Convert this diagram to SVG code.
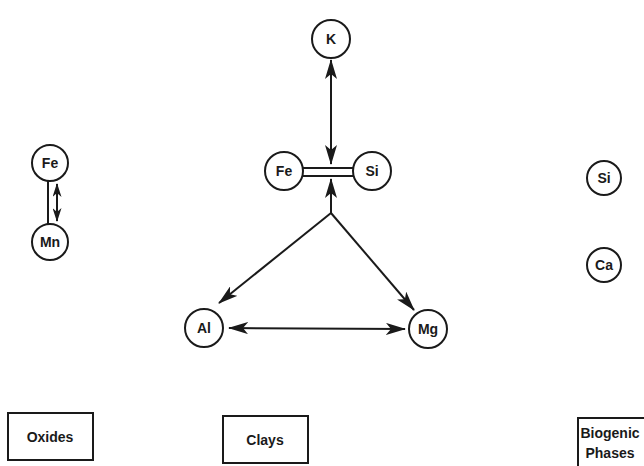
<svg xmlns="http://www.w3.org/2000/svg" width="644" height="466" viewBox="0 0 644 466">
<style>
.n{fill:#fff;stroke:#1a1a1a;stroke-width:2}
.t{font-family:"Liberation Sans",Arial,sans-serif;font-weight:bold;font-size:14px;fill:#1a1a1a;text-anchor:middle;dominant-baseline:central}
.b{fill:#fff;stroke:#1a1a1a;stroke-width:2}
.c{stroke:#1a1a1a;stroke-width:2;fill:none}
</style>
<defs>
<marker id="ah" viewBox="0 0 20 12" refX="19" refY="6" markerWidth="20" markerHeight="12" markerUnits="userSpaceOnUse" orient="auto-start-reverse">
<path d="M0,0 L20,6 L0,12 L5,6 Z" fill="#1a1a1a"/>
</marker>
<marker id="as" viewBox="0 0 14 9" refX="13" refY="4.5" markerWidth="14" markerHeight="9" markerUnits="userSpaceOnUse" orient="auto-start-reverse">
<path d="M0,0 L14,4.5 L0,9 L4,4.5 Z" fill="#1a1a1a"/>
</marker>
</defs>
<rect width="644" height="466" fill="#fff"/>
<g id="connectors">
<line class="c" x1="48" y1="181" x2="48" y2="224"/>
<line class="c" x1="57" y1="184" x2="57" y2="221" marker-start="url(#as)" marker-end="url(#as)"/>
<line class="c" x1="331" y1="60" x2="331" y2="164" marker-start="url(#ah)" marker-end="url(#ah)"/>
<line class="c" x1="303" y1="168" x2="353" y2="168"/>
<line class="c" x1="303" y1="176" x2="353" y2="176"/>
<line class="c" x1="331" y1="213" x2="331" y2="179" marker-end="url(#ah)"/>
<line class="c" x1="331" y1="213" x2="219" y2="303" marker-end="url(#ah)"/>
<line class="c" x1="331" y1="213" x2="414" y2="310" marker-end="url(#ah)"/>
<line class="c" x1="229" y1="328" x2="405" y2="329" marker-start="url(#ah)" marker-end="url(#ah)"/>
</g>
<g id="ox-fe"><circle class="n" cx="50" cy="163" r="18"/><text class="t" x="50" y="163">Fe</text></g>
<g id="ox-mn"><circle class="n" cx="50" cy="242" r="18"/><text class="t" x="50" y="242">Mn</text></g>
<g id="cl-k"><circle class="n" cx="331" cy="39" r="19"/><text class="t" x="331" y="39">K</text></g>
<g id="cl-fe"><circle class="n" cx="284" cy="171" r="19"/><text class="t" x="284" y="171">Fe</text></g>
<g id="cl-si"><circle class="n" cx="372" cy="171" r="19"/><text class="t" x="372" y="171">Si</text></g>
<g id="cl-al"><circle class="n" cx="204" cy="328" r="19"/><text class="t" x="204" y="328">Al</text></g>
<g id="cl-mg"><circle class="n" cx="428" cy="329" r="19"/><text class="t" x="428" y="329">Mg</text></g>
<g id="bio-si"><circle class="n" cx="604" cy="178" r="17"/><text class="t" x="604" y="178">Si</text></g>
<g id="bio-ca"><circle class="n" cx="604" cy="265" r="17"/><text class="t" x="604" y="265">Ca</text></g>
<g id="box-oxides"><rect class="b" x="8" y="413" width="85" height="47"/><text class="t" x="50" y="437">Oxides</text></g>
<g id="box-clays"><rect class="b" x="223" y="416" width="85" height="47"/><text class="t" x="265" y="440">Clays</text></g>
<g id="box-bio"><rect class="b" x="578" y="418" width="70" height="50"/><text class="t" x="610" y="433">Biogenic</text><text class="t" x="610" y="453">Phases</text></g>
</svg>
